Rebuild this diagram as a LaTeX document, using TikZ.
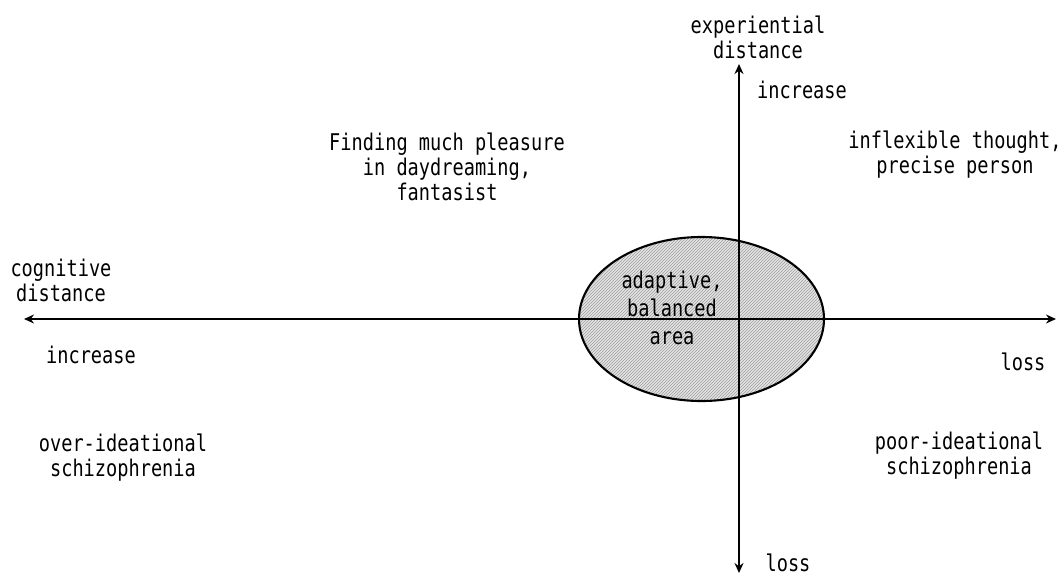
\documentclass[tikz,border=0pt]{standalone}
\usepackage{fontspec}
\setmainfont{DejaVu Sans Mono}[FakeStretch=0.81]
\usetikzlibrary{arrows.meta,patterns}
\begin{document}
\begin{tikzpicture}[x=1pt,y=-1pt,
  lbl/.style={align=center,inner sep=0pt,font=\fontsize{23}{25}\selectfont},
  axis/.style={line width=2.1pt,{Stealth[length=10pt,width=9pt]}-{Stealth[length=10pt,width=9pt]}}]
\useasboundingbox (0,0) rectangle (1061,576);
% ellipse
\fill[gray!22] (701.5,319) ellipse [x radius=122.5, y radius=82];
\fill[pattern=north east lines, pattern color=gray!75] (701.5,319) ellipse [x radius=122.5, y radius=82];
\draw[line width=2.1pt] (701.5,319) ellipse [x radius=122.5, y radius=82];
\node (center) at (701.5,319) {};
% axes
\coordinate (L) at (24,319);
\coordinate (R) at (1056,319);
\coordinate (T) at (739,64);
\coordinate (B) at (739,573);
\draw[axis] (L) -- (R);
\draw[axis] (B) -- (T);
% labels
\node[lbl] (area) at (672,308) {adaptive,\\[3pt]balanced\\[3pt]area};
\node[lbl] (exp) at (758,37) {experiential\\distance};
\node[lbl] (incT) at (802,90) {increase};
\node[lbl] (incl) at (955,155) {inflexible thought,\\precise person};
\node[lbl] (fant) at (447,167) {Finding much pleasure\\in daydreaming,\\fantasist};
\node[lbl] (cog) at (61,280) {cognitive\\distance};
\node[lbl] (incL) at (91,355) {increase};
\node[lbl] (lossR) at (1023,362) {loss};
\node[lbl] (over) at (123,458) {over-ideational\\schizophrenia};
\node[lbl] (poor) at (959,456) {poor-ideational\\schizophrenia};
\node[lbl] (lossB) at (788,563) {loss};
\end{tikzpicture}
\end{document}
